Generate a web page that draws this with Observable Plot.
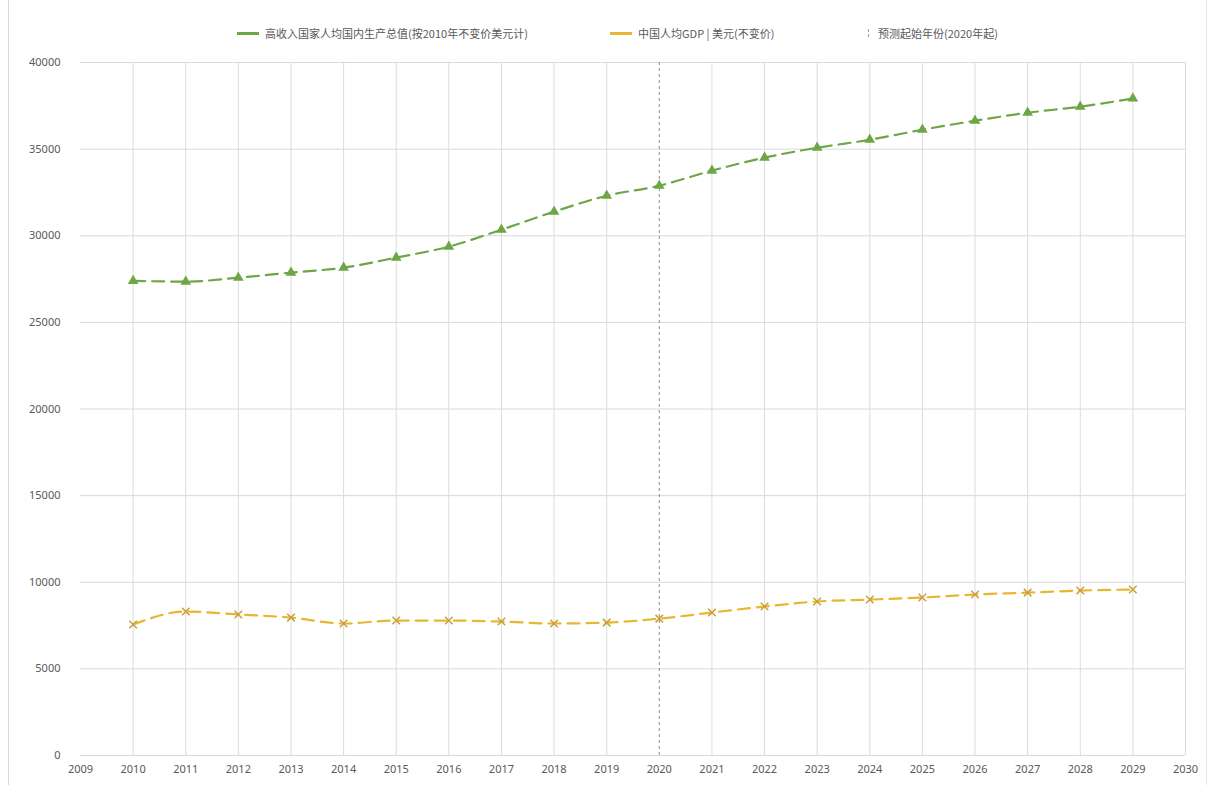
<!DOCTYPE html>
<html>
<head>
<meta charset="utf-8">
<script src="https://cdn.jsdelivr.net/npm/d3@7"></script>
<script src="https://cdn.jsdelivr.net/npm/@observablehq/plot@0.6"></script>
<style>
  body { margin: 0; background: #fff; font-family: "Noto Sans CJK SC", "Noto Sans", sans-serif; }
  #wrap { position: relative; width: 1214px; height: 785px; overflow: hidden; }
  #legend { position: absolute; left: 0; top: 22px; width: 1214px; height: 22px; font-size: 11px; color: #595959; }
  .item { position: absolute; top: 0; display: flex; align-items: center; height: 22px; white-space: nowrap; }
  .sw { display: inline-block; width: 22px; height: 3px; margin-right: 6px; }
  #chart { position: absolute; left: 0; top: 50px; }
  .frameL { position: absolute; left: 8px; top: 0; width: 1px; height: 785px; background: #d9d9d9; }
  .frameR { position: absolute; left: 1206px; top: 0; width: 1px; height: 785px; background: #e6e6e6; }
</style>
</head>
<body>
<div id="wrap">
  <div class="frameL"></div>
  <div class="frameR"></div>
  <div id="legend"></div>
  <div id="chart"></div>
</div>
<script>
const years = [2010,2011,2012,2013,2014,2015,2016,2017,2018,2019,2020,2021,2022,2023,2024,2025,2026,2027,2028,2029];
const seriesA = [27400,27350,27580,27870,28160,28740,29370,30350,31390,32310,32890,33760,34510,35080,35540,36120,36640,37100,37450,37920];
const seriesB = [7560,8310,8140,7960,7620,7790,7790,7730,7620,7670,7900,8250,8600,8890,9000,9120,9290,9400,9520,9580];
const labelA = "高收入国家人均国内生产总值(按2010年不变价美元计)";
const labelB = "中国人均GDP | 美元(不变价)";
const labelC = "预测起始年份(2020年起)";
const forecastYear = [2020];
const xTicks = d3.range(2009, 2031);
const yTicks = [0,5000,10000,15000,20000,25000,30000,35000,40000];

const colA = "#6ea646";
const colB = "#e8b731";

const dataA = years.map((y,i)=>({year:y, value:seriesA[i]}));
const dataB = years.map((y,i)=>({year:y, value:seriesB[i]}));

const leg = document.getElementById("legend");
leg.innerHTML = `
  <div class="item" style="left:237px"><span class="sw" style="background:${colA}"></span>${labelA}</div>
  <div class="item" style="left:610px"><span class="sw" style="background:${colB}"></span>${labelB}</div>
  <div class="item" style="left:868px"><span style="display:inline-block;width:1px;height:8px;border-left:1px dashed #999;margin-right:8px"></span>${labelC}</div>
`;

const plot = Plot.plot({
  width: 1214,
  height: 735,
  marginTop: 12,
  marginBottom: 30,
  marginLeft: 80,
  marginRight: 29,
  style: { fontSize: "11px", color: "#595959", fontFamily: "Noto Sans, sans-serif", background: "transparent" },
  x: { domain: [2009, 2030], ticks: xTicks, tickFormat: d => String(d), tickSize: 0, tickPadding: 10, label: null },
  y: { domain: [0, 40000], ticks: yTicks, tickFormat: d => String(d), tickSize: 0, tickPadding: 20, label: null },
  marks: [
    Plot.gridY(yTicks, { stroke: "#d9d9d9", strokeOpacity: 1, x1: 2009, x2: 2030 }),
    Plot.gridX(xTicks.filter(d => !forecastYear.includes(d) && d !== 2009), { stroke: "#dcdcdc", strokeOpacity: 1 }),
    Plot.ruleX(forecastYear, { stroke: "#8c8c8c", strokeDasharray: "3,3", strokeWidth: 1 }),
    Plot.axisX({ ticks: xTicks, tickFormat: d => String(d), tickSize: 0, tickPadding: 10, fill: "#595959" }),
    Plot.axisY({ ticks: yTicks, tickFormat: d => String(d), tickSize: 0, tickPadding: 20, fill: "#595959" }),
    Plot.line(dataA, { x: "year", y: "value", stroke: colA, strokeWidth: 2.2, strokeDasharray: "12,7", curve: "monotone-x" }),
    Plot.dot(dataA, { x: "year", y: "value", symbol: "triangle", fill: colA, stroke: colA, r: 3 }),
    Plot.line(dataB, { x: "year", y: "value", stroke: colB, strokeWidth: 2.2, strokeDasharray: "12,7", curve: "monotone-x" }),
    Plot.dot(dataB, { x: "year", y: "value", symbol: "times", stroke: "#c9a13a", strokeWidth: 1.5, r: 3.5 })
  ]
});
document.getElementById("chart").appendChild(plot);
</script>
</body>
</html>
